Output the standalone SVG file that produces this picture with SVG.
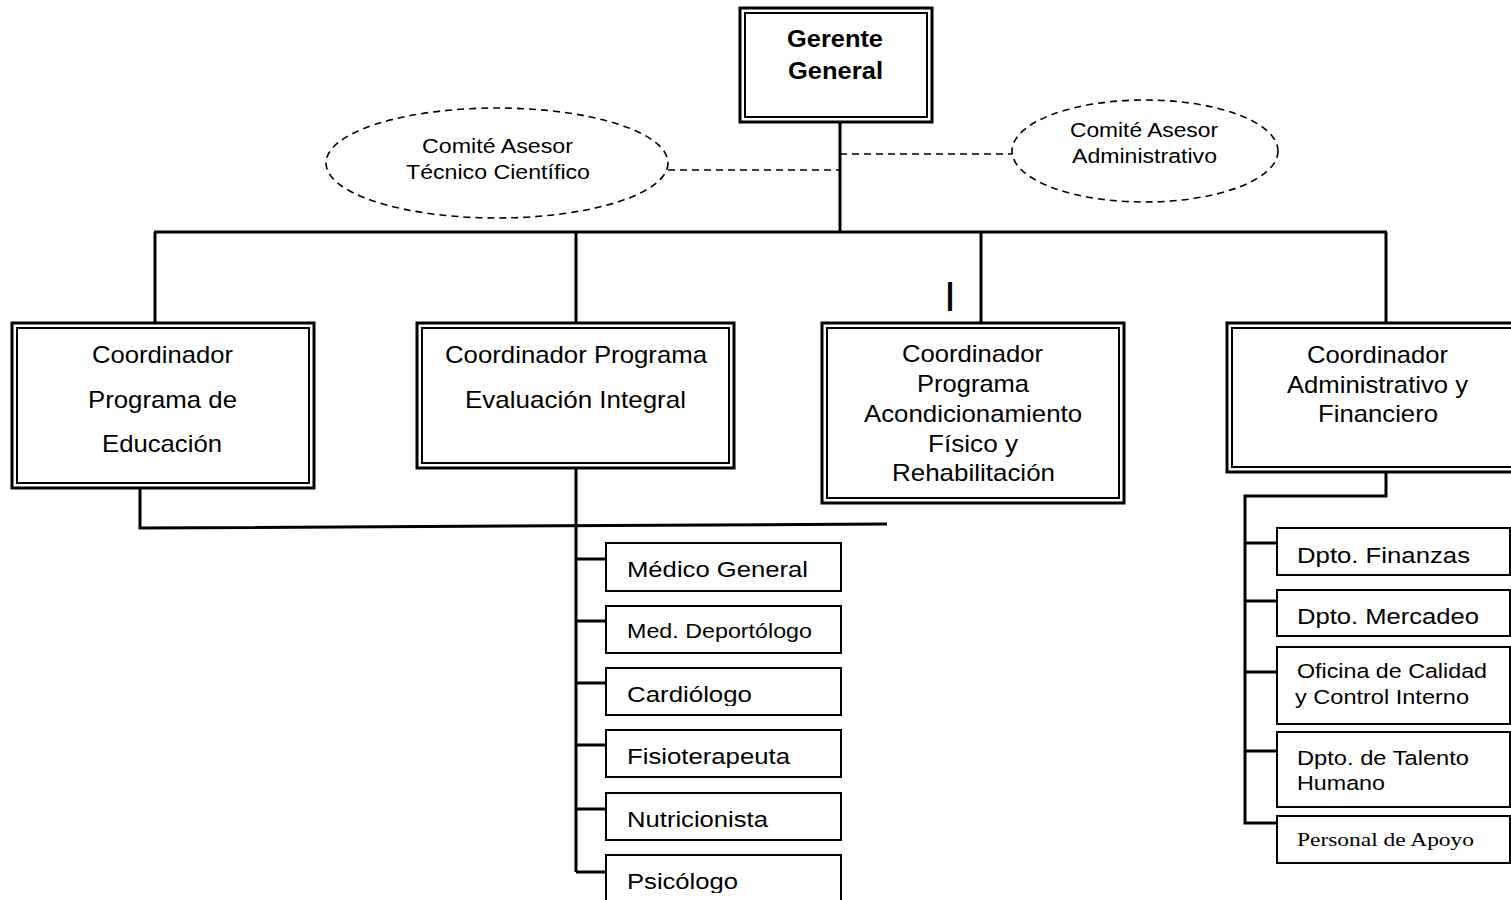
<svg xmlns="http://www.w3.org/2000/svg" width="1511" height="900" viewBox="0 0 1511 900">
<style>
.bg{fill:#fff}
.o{fill:#fff;stroke:#000;stroke-width:3}
.i{fill:none;stroke:#000;stroke-width:2}
.b{fill:#fff;stroke:#000;stroke-width:2}
.t{font-family:"Liberation Sans",Arial,sans-serif;font-size:24px;fill:#000}
.tb{font-weight:bold}
.s20{font-size:20.5px}
.s22{font-size:22px}
.ser{font-family:"Liberation Serif","Times New Roman",serif;font-size:19px;fill:#000}
.c{fill:none;stroke:#000;stroke-width:3}
.d{fill:none;stroke:#000;stroke-width:1.6;stroke-dasharray:7 5}
.e{fill:#fff;stroke:#000;stroke-width:1.6;stroke-dasharray:7 5}
</style>
<defs>
<clipPath id="cFin"><rect x="1277" y="528" width="233" height="39"/></clipPath>
<clipPath id="cMer"><rect x="1277" y="590" width="233" height="38"/></clipPath>
<clipPath id="cDep"><rect x="606" y="606" width="235" height="36"/></clipPath>
<clipPath id="cCar"><rect x="606" y="668" width="235" height="38"/></clipPath>
<clipPath id="cFis"><rect x="606" y="730" width="235" height="38"/></clipPath>
<clipPath id="cPsi"><rect x="606" y="855" width="235" height="38"/></clipPath>
</defs>
<rect class="bg" x="0" y="0" width="1511" height="900"/>

<g id="connectors">
<path class="c" d="M840 122 V232"/>
<path class="c" d="M154 232 H1387"/>
<path class="c" d="M155 232 V323 M576 232 V323 M981 232 V323 M1386 232 V323"/>
<path class="c" d="M140 488 V528 L887 524"/>
<path class="c" d="M576 468 V872"/>
<path class="c" d="M576 559 H606 M576 621 H606 M576 683 H606 M576 745 H606 M576 809 H606 M576 872 H606"/>
<path class="c" d="M1386 472 V496 H1245 V823 H1277"/>
<path class="c" d="M1245 543 H1277 M1245 601 H1277 M1245 672 H1277 M1245 751 H1277"/>
<path class="d" d="M668 170 H840"/>
<path class="d" d="M840 154 H1012"/>
</g>

<g id="gerente">
<rect class="o" x="740" y="8" width="192" height="114"/>
<rect class="i" x="745" y="13" width="182" height="104"/>
<text class="t tb" x="787" y="47" textLength="96" lengthAdjust="spacingAndGlyphs">Gerente</text>
<text class="t tb" x="788" y="79" textLength="95" lengthAdjust="spacingAndGlyphs">General</text>
</g>

<g id="comite-tecnico">
<ellipse class="e" cx="497" cy="163" rx="171" ry="55"/>
<text class="t s20" x="422" y="153" textLength="151" lengthAdjust="spacingAndGlyphs">Comité Asesor</text>
<text class="t s20" x="406" y="179" textLength="184" lengthAdjust="spacingAndGlyphs">Técnico Científico</text>
</g>

<g id="comite-admin">
<ellipse class="e" cx="1145" cy="151" rx="133" ry="51"/>
<text class="t s20" x="1070" y="137" textLength="148" lengthAdjust="spacingAndGlyphs">Comité Asesor</text>
<text class="t s20" x="1072" y="163" textLength="145" lengthAdjust="spacingAndGlyphs">Administrativo</text>
</g>

<g id="stray-mark">
<text class="t" style="font-size:43px" x="944" y="311">I</text>
</g>

<g id="coord-educacion">
<rect class="o" x="12" y="323" width="302" height="165"/>
<rect class="i" x="17" y="328" width="292" height="155"/>
<text class="t" x="92" y="363" textLength="141" lengthAdjust="spacingAndGlyphs">Coordinador</text>
<text class="t" x="88" y="408" textLength="149" lengthAdjust="spacingAndGlyphs">Programa de</text>
<text class="t" x="102" y="452" textLength="120" lengthAdjust="spacingAndGlyphs">Educación</text>
</g>

<g id="coord-evaluacion">
<rect class="o" x="417" y="323" width="317" height="145"/>
<rect class="i" x="422" y="328" width="307" height="135"/>
<text class="t" x="445" y="363" textLength="262" lengthAdjust="spacingAndGlyphs">Coordinador Programa</text>
<text class="t" x="465" y="408" textLength="221" lengthAdjust="spacingAndGlyphs">Evaluación Integral</text>
</g>

<g id="coord-acondicionamiento">
<rect class="o" x="822" y="323" width="302" height="180"/>
<rect class="i" x="827" y="328" width="292" height="170"/>
<text class="t" x="902" y="362" textLength="141" lengthAdjust="spacingAndGlyphs">Coordinador</text>
<text class="t" x="917" y="392" textLength="112" lengthAdjust="spacingAndGlyphs">Programa</text>
<text class="t" x="864" y="422" textLength="218" lengthAdjust="spacingAndGlyphs">Acondicionamiento</text>
<text class="t" x="928" y="452" textLength="90" lengthAdjust="spacingAndGlyphs">Físico y</text>
<text class="t" x="892" y="481" textLength="163" lengthAdjust="spacingAndGlyphs">Rehabilitación</text>
</g>

<g id="coord-administrativo">
<rect class="o" x="1227" y="323" width="295" height="149"/>
<rect class="i" x="1232" y="328" width="295" height="139"/>
<text class="t" x="1307" y="363" textLength="141" lengthAdjust="spacingAndGlyphs">Coordinador</text>
<text class="t" x="1287" y="393" textLength="181" lengthAdjust="spacingAndGlyphs">Administrativo y</text>
<text class="t" x="1318" y="422" textLength="120" lengthAdjust="spacingAndGlyphs">Financiero</text>
</g>

<g id="medico-general">
<rect class="b" x="606" y="543" width="235" height="48"/>
<text class="t s22" x="627" y="577" textLength="181" lengthAdjust="spacingAndGlyphs">Médico General</text>
</g>
<g id="med-deportologo">
<rect class="b" x="606" y="606" width="235" height="47"/>
<text class="t s20" x="627" y="638" textLength="185" lengthAdjust="spacingAndGlyphs" clip-path="url(#cDep)">Med. Deportólogo</text>
</g>
<g id="cardiologo">
<rect class="b" x="606" y="668" width="235" height="47"/>
<text class="t s22" x="627" y="702" textLength="125" lengthAdjust="spacingAndGlyphs" clip-path="url(#cCar)">Cardiólogo</text>
</g>
<g id="fisioterapeuta">
<rect class="b" x="606" y="730" width="235" height="47"/>
<text class="t s22" x="627" y="764" textLength="163" lengthAdjust="spacingAndGlyphs" clip-path="url(#cFis)">Fisioterapeuta</text>
</g>
<g id="nutricionista">
<rect class="b" x="606" y="793" width="235" height="47"/>
<text class="t s22" x="627" y="827" textLength="141" lengthAdjust="spacingAndGlyphs">Nutricionista</text>
</g>
<g id="psicologo">
<rect class="b" x="606" y="855" width="235" height="60"/>
<text class="t s22" x="627" y="889" textLength="111" lengthAdjust="spacingAndGlyphs" clip-path="url(#cPsi)">Psicólogo</text>
</g>

<g id="dpto-finanzas">
<rect class="b" x="1277" y="528" width="233" height="47"/>
<text class="t s22" x="1297" y="563" textLength="173" lengthAdjust="spacingAndGlyphs" clip-path="url(#cFin)">Dpto. Finanzas</text>
</g>
<g id="dpto-mercadeo">
<rect class="b" x="1277" y="590" width="233" height="46"/>
<text class="t s22" x="1297" y="624" textLength="182" lengthAdjust="spacingAndGlyphs" clip-path="url(#cMer)">Dpto. Mercadeo</text>
</g>
<g id="oficina-calidad">
<rect class="b" x="1277" y="647" width="233" height="77"/>
<text class="t s20" x="1297" y="678" textLength="190" lengthAdjust="spacingAndGlyphs">Oficina de Calidad</text>
<text class="t s20" x="1295" y="704" textLength="174" lengthAdjust="spacingAndGlyphs">y Control Interno</text>
</g>
<g id="dpto-talento">
<rect class="b" x="1277" y="732" width="233" height="75"/>
<text class="t s20" x="1297" y="765" textLength="172" lengthAdjust="spacingAndGlyphs">Dpto. de Talento</text>
<text class="t s20" x="1297" y="790" textLength="88" lengthAdjust="spacingAndGlyphs">Humano</text>
</g>
<g id="personal-apoyo">
<rect class="b" x="1277" y="816" width="233" height="47"/>
<text class="ser" x="1297" y="846" textLength="177" lengthAdjust="spacingAndGlyphs">Personal de Apoyo</text>
</g>
</svg>
